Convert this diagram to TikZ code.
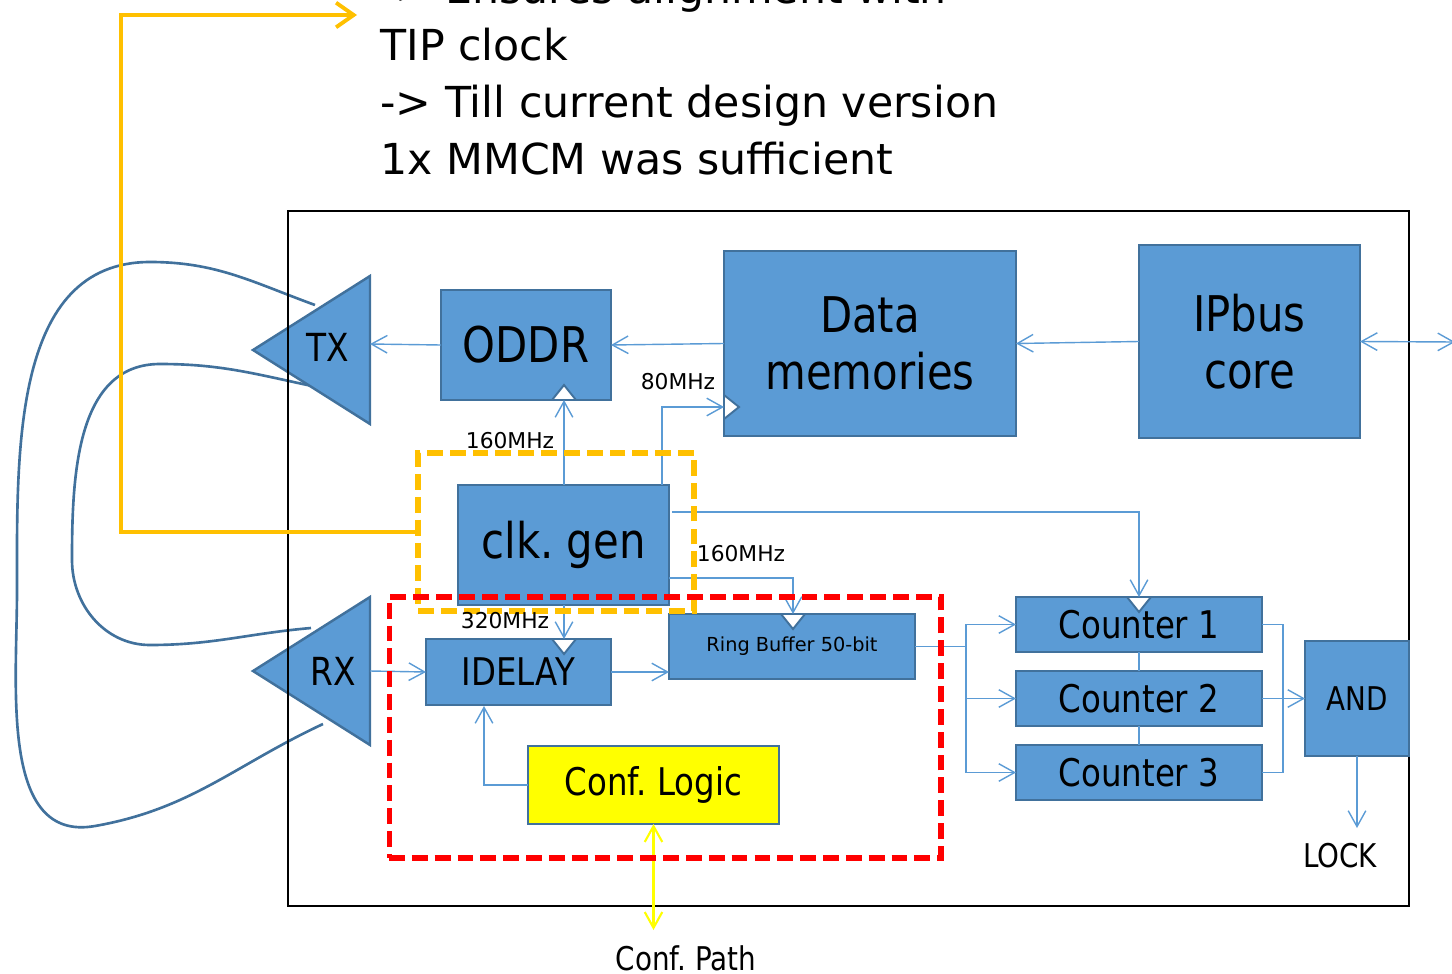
\documentclass[tikz,border=0pt]{standalone}
\usepackage{fontspec}
\setmainfont{DejaVu Sans}
\newfontfamily\condfont{DejaVu Sans}[FakeStretch=0.85]
\usepackage{tikz}
\usetikzlibrary{arrows.meta}

\definecolor{blockfill}{HTML}{5B9BD5}
\definecolor{blockline}{HTML}{41719C}
\definecolor{clkorange}{HTML}{FFC000}
\definecolor{conffill}{HTML}{FFFF00}

\newcommand{\fsnote}{\fontsize{24.3}{32.3}\selectfont}
\newcommand{\fsbig}{\condfont\fontsize{28}{32.3}\selectfont}
\newcommand{\fsmid}{\condfont\fontsize{21.7}{26}\selectfont}
\newcommand{\fstx}{\condfont\fontsize{22}{26}\selectfont}
\newcommand{\fsand}{\condfont\fontsize{18.6}{22}\selectfont}
\newcommand{\fsfreq}{\fontsize{12.4}{15}\selectfont}
\newcommand{\fsring}{\fontsize{11}{13}\selectfont}

\tikzset{
  block/.style={draw=blockline, fill=blockfill, line width=1.4pt,
    inner sep=0pt, outer sep=0pt},
  wire/.style={draw=blockfill, line width=0.8pt},
  sig/.style={wire, -{Straight Barb[length=9pt,width=10pt]}},
  cable/.style={draw=blockline, line width=1.5pt},
  dashbox/.style={line width=2.9pt, dash pattern=on 9pt off 4pt,
    inner sep=0pt, outer sep=0pt},
  clkpin/.pic={
    \draw[fill=white, draw=blockline, line width=1.1pt]
      (-12,0) -- (12,0) -- (0,15) -- cycle;
  }
}

\begin{document}
\frenchspacing
\begin{tikzpicture}[x=0.02cm,y=-0.02cm]
  \useasboundingbox (0,0) rectangle (1452,973);

  % loop-back cables TX -> RX
  \draw[cable] (315,305) to[out=160,in=0] (150,262)
    to[out=180,in=90] (17,590) to[out=-90,in=190] (95,826)
    to[out=10,in=205] (323,724);
  \draw[cable] (312,386) to[out=168,in=0] (160,364)
    to[out=180,in=90] (72,560) to[out=-90,in=180] (150,645)
    to[out=0,in=185] (311,628);

  % transceivers
  \draw[block] (370,276) -- (253,350) -- (370,424) -- cycle;
  \draw[block] (370,597) -- (253,671) -- (370,745) -- cycle;
  \node[font=\fstx] (txl) at (328,347) {TX};
  \node[font=\fstx] (rxl) at (333,671) {RX};
  \coordinate (tx) at (370,344);
  \coordinate (rx) at (370,671);

  % FPGA
  \node[draw, line width=1.4pt, minimum width=22.42cm, minimum height=13.9cm,
    inner sep=0pt] (fpga) at (848.5,558.5) {};

  % blocks
  \node[block, minimum width=3.4cm, minimum height=2.2cm, font=\fsbig]
    (oddr) at (526,345) {ODDR};
  \node[block, minimum width=5.84cm, minimum height=3.7cm, font=\fsbig,
    align=center] (mem) at (870,343.5) {Data\\memories};
  \node[block, minimum width=4.42cm, minimum height=3.86cm, font=\fsbig,
    align=center] (ipbus) at (1249.5,341.5) {IPbus\\core};
  \node[block, minimum width=4.22cm, minimum height=2.4cm, font=\fsbig]
    (clk) at (563.5,545) {clk. gen};
  \node[block, minimum width=3.7cm, minimum height=1.32cm, font=\fsmid]
    (idly) at (518.5,672) {IDELAY};
  \node[block, minimum width=4.92cm, minimum height=1.3cm, font=\fsring]
    (ring) at (792,646.5) {Ring Buffer 50-bit};
  \node[block, minimum width=4.92cm, minimum height=1.1cm, font=\fsmid]
    (cnt1) at (1139,624.5) {Counter 1};
  \node[block, minimum width=4.92cm, minimum height=1.1cm, font=\fsmid]
    (cnt2) at (1139,698.5) {Counter 2};
  \node[block, minimum width=4.92cm, minimum height=1.1cm, font=\fsmid]
    (cnt3) at (1139,772.5) {Counter 3};
  \node[block, minimum width=2.08cm, minimum height=2.3cm, font=\fsand]
    (and) at (1357,698.5) {AND};
  \node[block, fill=conffill, minimum width=5.02cm, minimum height=1.56cm,
    font=\fsmid] (conf) at (653.5,785) {Conf. Logic};

  % clock inputs
  \coordinate (oddrclk) at (564,400);
  \coordinate (memclk) at (724,407);
  \coordinate (ringclk) at (793,614);
  \coordinate (idlyclk) at (564,639);
  \coordinate (idlycfg) at (484,706);
  \coordinate (ext) at (1455,342);
  \pic[rotate=180] at (oddrclk) {clkpin};
  \pic[rotate=90] at (memclk) {clkpin};
  \pic at (ringclk) {clkpin};
  \pic at (idlyclk) {clkpin};
  \pic at (cnt1.north) {clkpin};

  % data path
  \draw[sig] (oddr.west) -- (tx);
  \draw[sig] (mem.west) -- (oddr.east);
  \draw[sig] (ipbus.west) -- (mem.east);
  \draw[wire, {Straight Barb[length=9pt,width=10pt]}-{Straight Barb[length=9pt,width=10pt]}]
    (ipbus.east) -- (ext);
  \draw[sig] (rx) -- (idly.west);
  \draw[sig] (idly.east) -- (ring.west |- idly.east);
  \draw[wire] (ring.east) -- ++(51,0) coordinate (fan);
  \draw[sig] (fan) |- (cnt1.west);
  \draw[sig] (fan) |- (cnt2.west);
  \draw[sig] (fan) |- (cnt3.west);
  \draw[wire] (cnt1.south) -- (cnt2.north);
  \draw[wire] (cnt2.south) -- (cnt3.north);
  \draw[wire] (cnt1.east) -- ++(21,0) |- (cnt3.east);
  \draw[sig] (cnt2.east) -- (and.west);
  \draw[sig] (and.south) -- ++(0,72);
  \draw[sig] (conf.west) -| (idlycfg);
  \draw[conffill, line width=1.2pt,
    {Straight Barb[length=9pt,width=10pt]}-{Straight Barb[length=9pt,width=10pt]}]
    (conf.south) -- ++(0,106);

  % clocks
  \draw[sig] (clk.north -| oddrclk) -- (oddrclk);
  \draw[sig] (clk.north) ++(98.5,0) |- (memclk);
  \draw[sig] (clk.east) ++(3,-33) -| (cnt1.north);
  \draw[sig] (clk.east) ++(0,33) -| (ringclk);
  \draw[sig] (clk.south -| idlyclk) -- (idlyclk);

  % highlighted regions
  \node[dashbox, draw=clkorange, minimum width=5.52cm, minimum height=3.16cm]
    (clkbox) at (556,532) {};
  \draw[clkorange, line width=2.2pt, -{Straight Barb[length=10pt,width=14pt]}]
    (clkbox.west) -| (121,15) -- (357,15);
  \node[dashbox, draw=red, minimum width=11.04cm, minimum height=5.22cm]
    (cfgbox) at (665,727.5) {};

  % labels
  \node[font=\fsfreq] (f80) at (678,382) {80MHz};
  \node[font=\fsfreq] (f160a) at (510,441) {160MHz};
  \node[font=\fsfreq] (f160b) at (741,554) {160MHz};
  \node[font=\fsfreq] (f320) at (505,621) {320MHz};
  \node[font=\fsand] (lock) at (1340,856) {LOCK};
  \node[font=\fsand] (cpath) at (686,958) {Conf. Path};
  \node[anchor=base west, align=left, inner sep=0pt, font=\fsnote] (note) at (380,174)
    {-> Ensures alignment with\\TIP clock\\-> Till current design version\\1x MMCM was sufficient};
\end{tikzpicture}
\end{document}
